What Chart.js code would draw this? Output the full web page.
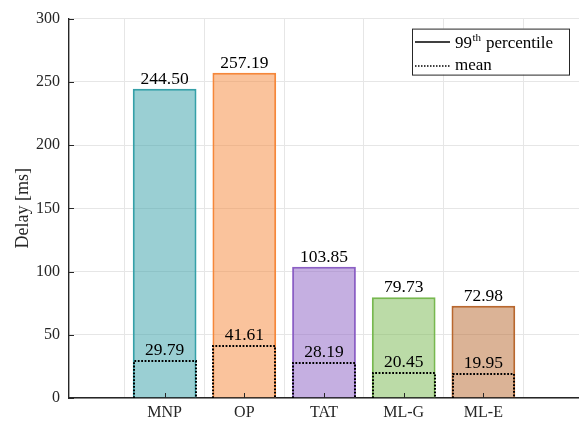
<!DOCTYPE html>
<html>
<head>
<meta charset="utf-8">
<script src="https://cdn.jsdelivr.net/npm/chart.js@4.4.1/dist/chart.umd.min.js"></script>
<style>
  html, body { margin: 0; padding: 0; background: #fff; }
  #wrap { width: 579px; height: 423px; }
</style>
</head>
<body>
<div id="wrap"><canvas id="delayChart" width="579" height="423"></canvas></div>
<script>
const schemes = ['MNP', 'OP', 'TAT', 'ML-G', 'ML-E'];
const p99Delay = [244.50, 257.19, 103.85, 79.73, 72.98];
const meanDelay = [29.79, 41.61, 28.19, 20.45, 19.95];
const yTicks = [0, 50, 100, 150, 200, 250, 300];

const edgeRGB = [[53, 160, 168], [245, 135, 58], [139, 95, 196], [119, 184, 79], [184, 103, 46]];
const rgba = (c, a) => `rgba(${c[0]}, ${c[1]}, ${c[2]}, ${a})`;

const FONT = '"Liberation Serif", "Times New Roman", serif';
const INK = '#262626';

// extra drawing: dotted mean boxes, value labels, inward ticks and the legend
const overlayPlugin = {
    id: 'overlay',
    afterDatasetsDraw(chart) {
        const ctx = chart.ctx;
        const area = chart.chartArea;
        const xs = chart.scales.x;
        const ys = chart.scales.y;

        // dotted outline for the mean bars
        const meanMeta = chart.getDatasetMeta(0);
        ctx.save();
        ctx.strokeStyle = '#000';
        ctx.lineWidth = 2;
        ctx.setLineDash([1.8, 1.6]);
        meanMeta.data.forEach(bar => {
            const left = Math.round(bar.x - bar.width / 2) + 1;
            const right = Math.round(bar.x + bar.width / 2) - 1;
            const top = Math.round(bar.y) + 1;
            const bottom = Math.round(bar.base);
            ctx.beginPath();
            ctx.moveTo(left, bottom);
            ctx.lineTo(left, top);
            ctx.lineTo(right, top);
            ctx.lineTo(right, bottom);
            ctx.stroke();
        });
        ctx.restore();

        // value labels above each bar
        ctx.save();
        ctx.fillStyle = '#000';
        ctx.font = `17.5px ${FONT}`;
        ctx.textAlign = 'center';
        ctx.textBaseline = 'alphabetic';
        [0, 1].forEach(di => {
            const values = chart.data.datasets[di].data;
            chart.getDatasetMeta(di).data.forEach((bar, i) => {
                ctx.fillText(values[i].y.toFixed(2), bar.x, bar.y - 5);
            });
        });
        ctx.restore();

        // MATLAB-style inward tick marks
        ctx.save();
        ctx.strokeStyle = INK;
        ctx.lineWidth = 1;
        ctx.beginPath();
        yTicks.forEach(v => {
            const py = Math.round(ys.getPixelForValue(v)) + 0.5;
            ctx.moveTo(area.left, py);
            ctx.lineTo(area.left + 5, py);
        });
        schemes.forEach((_, i) => {
            const px = Math.round(xs.getPixelForValue(i + 1)) + 0.5;
            ctx.moveTo(px, area.bottom);
            ctx.lineTo(px, area.bottom - 5);
        });
        ctx.stroke();
        ctx.restore();

        // legend box
        const lx = area.right - 167;
        const ly = area.top + 10;
        const lw = 157;
        const lh = 46;
        ctx.save();
        ctx.fillStyle = '#fff';
        ctx.fillRect(lx, ly, lw, lh);
        ctx.strokeStyle = INK;
        ctx.lineWidth = 1;
        ctx.strokeRect(lx + 0.5, ly + 0.5, lw, lh);

        ctx.strokeStyle = '#000';
        ctx.lineWidth = 1.5;
        ctx.beginPath();
        ctx.moveTo(lx + 3, ly + 13.5);
        ctx.lineTo(lx + 38, ly + 13.5);
        ctx.stroke();
        ctx.setLineDash([1.5, 1.5]);
        ctx.beginPath();
        ctx.moveTo(lx + 3, ly + 37.5);
        ctx.lineTo(lx + 38, ly + 37.5);
        ctx.stroke();

        ctx.fillStyle = '#000';
        ctx.textBaseline = 'alphabetic';
        ctx.textAlign = 'left';
        let tx = lx + 43;
        ctx.font = `17px ${FONT}`;
        ctx.fillText('99', tx, ly + 19);
        tx += ctx.measureText('99').width + 0.5;
        ctx.font = `11px ${FONT}`;
        ctx.fillText('th', tx, ly + 12);
        tx += ctx.measureText('th').width + 5;
        ctx.font = `17px ${FONT}`;
        ctx.fillText('percentile', tx, ly + 19);
        ctx.fillText('mean', lx + 43, ly + 41);
        ctx.restore();
    }
};

new Chart(document.getElementById('delayChart'), {
    type: 'bar',
    data: {
        datasets: [
            {
                label: 'mean',
                data: meanDelay.map((v, i) => ({ x: i + 1, y: v })),
                backgroundColor: 'rgba(0, 0, 0, 0)',
                borderWidth: 0,
                grouped: false,
                order: 0
            },
            {
                label: '99th percentile',
                data: p99Delay.map((v, i) => ({ x: i + 1, y: v })),
                backgroundColor: edgeRGB.map(c => rgba(c, 0.5)),
                borderColor: edgeRGB.map(c => rgba(c, 1)),
                borderWidth: 2,
                borderSkipped: 'bottom',
                grouped: false,
                order: 1
            }
        ]
    },
    options: {
        responsive: false,
        animation: false,
        events: [],
        layout: { padding: { top: 15, right: 0, bottom: 0, left: 0 } },
        datasets: { bar: { categoryPercentage: 1.0, barPercentage: 0.8 } },
        plugins: { legend: { display: false }, tooltip: { enabled: false } },
        scales: {
            x: {
                type: 'linear',
                min: -0.2,
                max: 6.2,
                offset: false,
                afterBuildTicks: scale => {
                    scale.ticks = schemes.map((_, i) => ({ value: i + 1 }));
                },
                afterFit: scale => { scale.height = 25; },
                ticks: {
                    autoSkip: false,
                    maxRotation: 0,
                    padding: 5,
                    color: INK,
                    font: { family: FONT, size: 16 },
                    callback: v => schemes[v - 1]
                },
                grid: { color: '#e6e6e6', lineWidth: 1, drawTicks: false },
                border: { display: true, color: INK, width: 1.4 }
            },
            y: {
                min: 0,
                max: 300,
                afterBuildTicks: scale => {
                    scale.ticks = yTicks.map(v => ({ value: v }));
                },
                afterFit: scale => { scale.width = 69; },
                ticks: {
                    padding: 9,
                    color: INK,
                    font: { family: FONT, size: 16 }
                },
                grid: { color: '#e6e6e6', lineWidth: 1, drawTicks: false },
                border: { display: true, color: INK, width: 1.4 },
                title: {
                    display: true,
                    text: 'Delay [ms]',
                    color: INK,
                    font: { family: FONT, size: 18 },
                    padding: { top: 12, bottom: 0 }
                }
            }
        }
    },
    plugins: [overlayPlugin]
});
</script>
</body>
</html>
